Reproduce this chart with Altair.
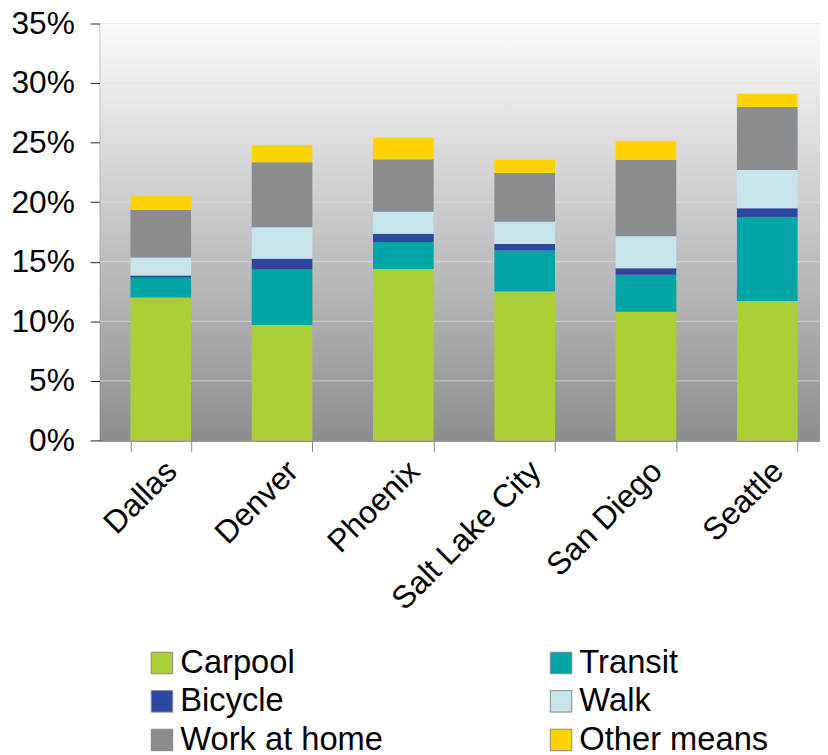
import altair as alt
import pandas as pd

cities = ["Dallas", "Denver", "Phoenix", "Salt Lake City", "San Diego", "Seattle"]
modes = ["Carpool", "Transit", "Bicycle", "Walk", "Work at home", "Other means"]
carpool = [12.0, 9.7, 14.4, 12.5, 10.8, 11.7]
transit = [1.65, 4.65, 2.25, 3.45, 3.1, 7.05]
bicycle = [0.2, 0.9, 0.7, 0.55, 0.55, 0.75]
walk = [1.5, 2.65, 1.85, 1.85, 2.7, 3.2]
work_home = [4.0, 5.45, 4.4, 4.1, 6.4, 5.3]
other = [1.15, 1.45, 1.8, 1.1, 1.6, 1.1]
colors = ["#abd037", "#00a5a6", "#2d47a1", "#c6e4e9", "#8a8d8f", "#ffd200"]
y_ticks = [0, 5, 10, 15, 20, 25, 30, 35]

series = [carpool, transit, bicycle, walk, work_home, other]
rows = []
for k, (m, vals) in enumerate(zip(modes, series)):
    for c, v in zip(cities, vals):
        rows.append({"city": c, "mode": m, "value": v, "order": k})
df = pd.DataFrame(rows)

FONT = "Liberation Sans"

yscale = alt.Scale(domain=[0, 35], nice=False)
yaxis = alt.Axis(values=y_ticks, labelExpr="datum.value + '%'", labelFontSize=32,
                 labelFont=FONT, labelColor="#000", tickSize=10,
                 tickColor="#222", domainColor="#222", domainWidth=1.5,
                 labelPadding=16, grid=False)

background = alt.Chart(alt.Data(values=[{"a": 1}])).mark_rect(
    color=alt.LinearGradient(
        gradient="linear", x1=0, y1=0, x2=0, y2=1,
        stops=[alt.GradientStop(offset=0, color="#fbfaf8"),
               alt.GradientStop(offset=0.5, color="#c4c5c6"),
               alt.GradientStop(offset=1, color="#8c8e90")])
).encode(x=alt.value(0), x2=alt.value("width"), y=alt.value(0), y2=alt.value("height"))

grid = alt.Chart(alt.Data(values=[{"t": t} for t in y_ticks[1:]])).mark_rule(
    color="#e2e2e2", opacity=0.7, strokeWidth=1
).encode(y=alt.Y("t:Q", scale=yscale, axis=yaxis, title=None))

bars = alt.Chart(df).mark_bar().encode(
    x=alt.X("city:N", sort=cities, title=None,
            scale=alt.Scale(range=[0, 735], paddingInner=0.5, paddingOuter=0.25),
            axis=alt.Axis(labelAngle=-45, labelFontSize=32, labelFont=FONT,
                          labelColor="#000", tickBand="extent", tickSize=11,
                          tickColor="#888", domainColor="#777", domainWidth=1.5,
                          labelPadding=4, labelLimit=400, grid=False)),
    y=alt.Y("value:Q", stack="zero", title=None, scale=yscale, axis=yaxis),
    color=alt.Color("mode:N", sort=modes,
                    scale=alt.Scale(domain=modes, range=colors),
                    legend=alt.Legend(orient="none", legendX=46, legendY=629,
                                      direction="horizontal",
                                      columns=2, columnPadding=163, rowPadding=5,
                                      symbolType="square", symbolSize=470,
                                      symbolStrokeColor="#888", symbolStrokeWidth=1,
                                      labelFontSize=33, labelFont=FONT,
                                      labelColor="#000", labelLimit=400,
                                      labelOffset=2, padding=0, title=None)),
    order=alt.Order("order:Q", sort="ascending"),
)

chart = alt.layer(background, grid, bars).properties(
    width=727, height=421,
    autosize=alt.AutoSizeParams(type="none"),
    padding={"left": 93, "top": 12, "right": 0, "bottom": 314},
).configure_view(stroke=None)

chart.save("out.html", embed_options={"renderer": "svg", "actions": False})
